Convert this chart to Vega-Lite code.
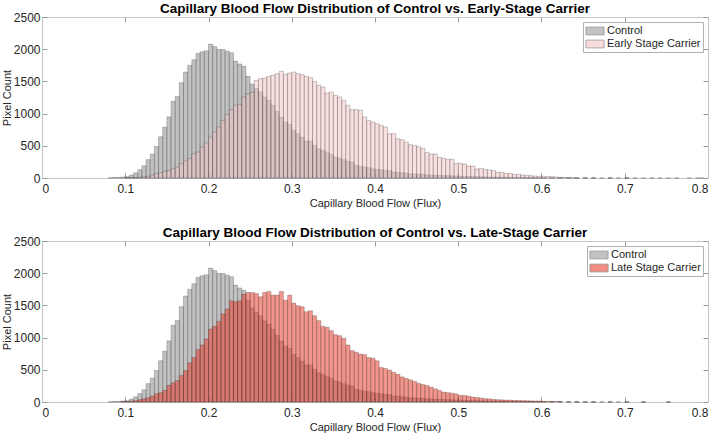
{
  "$schema": "https://vega.github.io/schema/vega-lite/v6.json",
  "padding": {"left": 0, "top": 1, "right": 0, "bottom": 0},
  "spacing": 16,
  "config": {
    "font": "Liberation Sans",
    "view": {"stroke": "#c4c4c4", "strokeWidth": 1},
    "axis": {"grid": false, "domainColor": "#c4c4c4", "tickColor": "#9a9a9a", "labelColor": "#262626", "titleColor": "#262626", "labelFontSize": 12, "titleFontSize": 11, "titleFontWeight": "normal", "tickSize": -5, "minExtent": 0},
    "title": {"fontSize": 13.5, "fontWeight": "bold", "color": "#000000", "offset": -4},
    "legend": {"orient": "top-right", "offset": 5, "fillColor": "#ffffff", "strokeColor": "#b0b0b0", "padding": 2, "labelFontSize": 11, "labelColor": "#262626", "rowPadding": 0, "symbolOffset": 3, "labelOffset": 5, "symbolType": "M-1.4,-0.6H1.4V0.6H-1.4Z", "symbolSize": 169, "symbolStrokeColor": "#555555", "symbolStrokeWidth": 0.8, "symbolOpacity": 0.6, "title": null}
  },
  "resolve": {"scale": {"color": "independent"}, "legend": {"color": "independent"}},
  "datasets": {
    "control": [
      {"lo":0.08,"hi":0.085,"n":5},{"lo":0.085,"hi":0.09,"n":8},{"lo":0.09,"hi":0.095,"n":10},{"lo":0.095,"hi":0.1,"n":15},
      {"lo":0.1,"hi":0.105,"n":20},{"lo":0.105,"hi":0.11,"n":45},{"lo":0.11,"hi":0.115,"n":80},{"lo":0.115,"hi":0.12,"n":130},
      {"lo":0.12,"hi":0.125,"n":190},{"lo":0.125,"hi":0.13,"n":285},{"lo":0.13,"hi":0.135,"n":370},{"lo":0.135,"hi":0.14,"n":490},
      {"lo":0.14,"hi":0.145,"n":640},{"lo":0.145,"hi":0.15,"n":790},{"lo":0.15,"hi":0.155,"n":950},{"lo":0.155,"hi":0.16,"n":1190},
      {"lo":0.16,"hi":0.165,"n":1265},{"lo":0.165,"hi":0.17,"n":1480},{"lo":0.17,"hi":0.175,"n":1645},{"lo":0.175,"hi":0.18,"n":1750},
      {"lo":0.18,"hi":0.185,"n":1835},{"lo":0.185,"hi":0.19,"n":1935},{"lo":0.19,"hi":0.195,"n":1960},{"lo":0.195,"hi":0.2,"n":1975},
      {"lo":0.2,"hi":0.205,"n":2080},{"lo":0.205,"hi":0.21,"n":2040},{"lo":0.21,"hi":0.215,"n":1995},{"lo":0.215,"hi":0.22,"n":1995},
      {"lo":0.22,"hi":0.225,"n":1970},{"lo":0.225,"hi":0.23,"n":1945},{"lo":0.23,"hi":0.235,"n":1815},{"lo":0.235,"hi":0.24,"n":1770},
      {"lo":0.24,"hi":0.245,"n":1735},{"lo":0.245,"hi":0.25,"n":1580},{"lo":0.25,"hi":0.255,"n":1460},{"lo":0.255,"hi":0.26,"n":1390},
      {"lo":0.26,"hi":0.265,"n":1335},{"lo":0.265,"hi":0.27,"n":1257},{"lo":0.27,"hi":0.275,"n":1206},{"lo":0.275,"hi":0.28,"n":1128},
      {"lo":0.28,"hi":0.285,"n":1035},{"lo":0.285,"hi":0.29,"n":947},{"lo":0.29,"hi":0.295,"n":869},{"lo":0.295,"hi":0.3,"n":833},
      {"lo":0.3,"hi":0.305,"n":740},{"lo":0.305,"hi":0.31,"n":688},{"lo":0.31,"hi":0.315,"n":636},{"lo":0.315,"hi":0.32,"n":574},
      {"lo":0.32,"hi":0.325,"n":574},{"lo":0.325,"hi":0.33,"n":507},{"lo":0.33,"hi":0.335,"n":455},{"lo":0.335,"hi":0.34,"n":429},
      {"lo":0.34,"hi":0.345,"n":403},{"lo":0.345,"hi":0.35,"n":367},{"lo":0.35,"hi":0.355,"n":326},{"lo":0.355,"hi":0.36,"n":310},
      {"lo":0.36,"hi":0.365,"n":284},{"lo":0.365,"hi":0.37,"n":264},{"lo":0.37,"hi":0.375,"n":248},{"lo":0.375,"hi":0.38,"n":196},
      {"lo":0.38,"hi":0.385,"n":181},{"lo":0.385,"hi":0.39,"n":170},{"lo":0.39,"hi":0.395,"n":160},{"lo":0.395,"hi":0.4,"n":144},
      {"lo":0.4,"hi":0.405,"n":134},{"lo":0.405,"hi":0.41,"n":129},{"lo":0.41,"hi":0.415,"n":119},{"lo":0.415,"hi":0.42,"n":115},
      {"lo":0.42,"hi":0.425,"n":93},{"lo":0.425,"hi":0.43,"n":90},{"lo":0.43,"hi":0.435,"n":82},{"lo":0.435,"hi":0.44,"n":77},
      {"lo":0.44,"hi":0.445,"n":67},{"lo":0.445,"hi":0.45,"n":64},{"lo":0.45,"hi":0.455,"n":60},{"lo":0.455,"hi":0.46,"n":55},
      {"lo":0.46,"hi":0.465,"n":50},{"lo":0.465,"hi":0.47,"n":47},{"lo":0.47,"hi":0.475,"n":45},{"lo":0.475,"hi":0.48,"n":42},
      {"lo":0.48,"hi":0.485,"n":40},{"lo":0.485,"hi":0.49,"n":37},{"lo":0.49,"hi":0.495,"n":35},{"lo":0.495,"hi":0.5,"n":31},
      {"lo":0.5,"hi":0.505,"n":28},{"lo":0.505,"hi":0.51,"n":26},{"lo":0.51,"hi":0.515,"n":24},{"lo":0.515,"hi":0.52,"n":22},
      {"lo":0.52,"hi":0.525,"n":20},{"lo":0.525,"hi":0.53,"n":18},{"lo":0.53,"hi":0.535,"n":17},{"lo":0.535,"hi":0.54,"n":15},
      {"lo":0.54,"hi":0.545,"n":14},{"lo":0.545,"hi":0.55,"n":13},{"lo":0.55,"hi":0.555,"n":12},{"lo":0.555,"hi":0.56,"n":11},
      {"lo":0.56,"hi":0.565,"n":10},{"lo":0.565,"hi":0.57,"n":9},{"lo":0.57,"hi":0.575,"n":8},{"lo":0.575,"hi":0.58,"n":7},
      {"lo":0.58,"hi":0.585,"n":6},{"lo":0.585,"hi":0.59,"n":6},{"lo":0.59,"hi":0.595,"n":5},{"lo":0.595,"hi":0.6,"n":5},
      {"lo":0.6,"hi":0.605,"n":4},{"lo":0.61,"hi":0.615,"n":3},{"lo":0.62,"hi":0.625,"n":3},{"lo":0.63,"hi":0.635,"n":2},
      {"lo":0.64,"hi":0.645,"n":2},{"lo":0.65,"hi":0.655,"n":2},{"lo":0.66,"hi":0.665,"n":2},{"lo":0.68,"hi":0.685,"n":1},
      {"lo":0.7,"hi":0.705,"n":2},{"lo":0.72,"hi":0.725,"n":1},{"lo":0.75,"hi":0.755,"n":1}
    ],
    "early": [
      {"lo":0.1,"hi":0.105,"n":3},{"lo":0.105,"hi":0.11,"n":5},{"lo":0.11,"hi":0.115,"n":8},{"lo":0.115,"hi":0.12,"n":12},
      {"lo":0.12,"hi":0.125,"n":18},{"lo":0.125,"hi":0.13,"n":25},{"lo":0.13,"hi":0.135,"n":46},{"lo":0.135,"hi":0.14,"n":67},
      {"lo":0.14,"hi":0.145,"n":82},{"lo":0.145,"hi":0.15,"n":103},{"lo":0.15,"hi":0.155,"n":119},{"lo":0.155,"hi":0.16,"n":145},
      {"lo":0.16,"hi":0.165,"n":170},{"lo":0.165,"hi":0.17,"n":222},{"lo":0.17,"hi":0.175,"n":264},{"lo":0.175,"hi":0.18,"n":300},
      {"lo":0.18,"hi":0.185,"n":377},{"lo":0.185,"hi":0.19,"n":403},{"lo":0.19,"hi":0.195,"n":481},{"lo":0.195,"hi":0.2,"n":543},
      {"lo":0.2,"hi":0.205,"n":636},{"lo":0.205,"hi":0.21,"n":714},{"lo":0.21,"hi":0.215,"n":792},{"lo":0.215,"hi":0.22,"n":895},
      {"lo":0.22,"hi":0.225,"n":988},{"lo":0.225,"hi":0.23,"n":1061},{"lo":0.23,"hi":0.235,"n":1128},{"lo":0.235,"hi":0.24,"n":1144},
      {"lo":0.24,"hi":0.245,"n":1258},{"lo":0.245,"hi":0.25,"n":1309},{"lo":0.25,"hi":0.255,"n":1330},{"lo":0.255,"hi":0.26,"n":1516},
      {"lo":0.26,"hi":0.265,"n":1542},{"lo":0.265,"hi":0.27,"n":1553},{"lo":0.27,"hi":0.275,"n":1578},{"lo":0.275,"hi":0.28,"n":1594},
      {"lo":0.28,"hi":0.285,"n":1620},{"lo":0.285,"hi":0.29,"n":1656},{"lo":0.29,"hi":0.295,"n":1610},{"lo":0.295,"hi":0.3,"n":1630},
      {"lo":0.3,"hi":0.305,"n":1646},{"lo":0.305,"hi":0.31,"n":1620},{"lo":0.31,"hi":0.315,"n":1604},{"lo":0.315,"hi":0.32,"n":1578},
      {"lo":0.32,"hi":0.325,"n":1558},{"lo":0.325,"hi":0.33,"n":1501},{"lo":0.33,"hi":0.335,"n":1439},{"lo":0.335,"hi":0.34,"n":1413},
      {"lo":0.34,"hi":0.345,"n":1320},{"lo":0.345,"hi":0.35,"n":1335},{"lo":0.35,"hi":0.355,"n":1283},{"lo":0.355,"hi":0.36,"n":1258},
      {"lo":0.36,"hi":0.365,"n":1206},{"lo":0.365,"hi":0.37,"n":1128},{"lo":0.37,"hi":0.375,"n":1061},{"lo":0.375,"hi":0.38,"n":1061},
      {"lo":0.38,"hi":0.385,"n":1050},{"lo":0.385,"hi":0.39,"n":947},{"lo":0.39,"hi":0.395,"n":895},{"lo":0.395,"hi":0.4,"n":869},
      {"lo":0.4,"hi":0.405,"n":843},{"lo":0.405,"hi":0.41,"n":817},{"lo":0.41,"hi":0.415,"n":792},{"lo":0.415,"hi":0.42,"n":688},
      {"lo":0.42,"hi":0.425,"n":688},{"lo":0.425,"hi":0.43,"n":610},{"lo":0.43,"hi":0.435,"n":595},{"lo":0.435,"hi":0.44,"n":559},
      {"lo":0.44,"hi":0.445,"n":517},{"lo":0.445,"hi":0.45,"n":507},{"lo":0.45,"hi":0.455,"n":486},{"lo":0.455,"hi":0.46,"n":461},
      {"lo":0.46,"hi":0.465,"n":398},{"lo":0.465,"hi":0.47,"n":373},{"lo":0.47,"hi":0.475,"n":373},{"lo":0.475,"hi":0.48,"n":320},
      {"lo":0.48,"hi":0.485,"n":305},{"lo":0.485,"hi":0.49,"n":290},{"lo":0.49,"hi":0.495,"n":290},{"lo":0.495,"hi":0.5,"n":228},
      {"lo":0.5,"hi":0.505,"n":228},{"lo":0.505,"hi":0.51,"n":217},{"lo":0.51,"hi":0.515,"n":186},{"lo":0.515,"hi":0.52,"n":186},
      {"lo":0.52,"hi":0.525,"n":140},{"lo":0.525,"hi":0.53,"n":150},{"lo":0.53,"hi":0.535,"n":135},{"lo":0.535,"hi":0.54,"n":125},
      {"lo":0.54,"hi":0.545,"n":115},{"lo":0.545,"hi":0.55,"n":88},{"lo":0.55,"hi":0.555,"n":88},{"lo":0.555,"hi":0.56,"n":73},
      {"lo":0.56,"hi":0.565,"n":73},{"lo":0.565,"hi":0.57,"n":57},{"lo":0.57,"hi":0.575,"n":57},{"lo":0.575,"hi":0.58,"n":47},
      {"lo":0.58,"hi":0.585,"n":42},{"lo":0.585,"hi":0.59,"n":36},{"lo":0.59,"hi":0.595,"n":31},{"lo":0.595,"hi":0.6,"n":26},
      {"lo":0.6,"hi":0.605,"n":28},{"lo":0.605,"hi":0.61,"n":21},{"lo":0.61,"hi":0.615,"n":21},{"lo":0.615,"hi":0.62,"n":16},
      {"lo":0.62,"hi":0.625,"n":10},{"lo":0.625,"hi":0.63,"n":8},{"lo":0.63,"hi":0.635,"n":6},{"lo":0.635,"hi":0.64,"n":5},
      {"lo":0.64,"hi":0.645,"n":4},{"lo":0.65,"hi":0.655,"n":3},{"lo":0.66,"hi":0.665,"n":3},{"lo":0.67,"hi":0.675,"n":2},
      {"lo":0.68,"hi":0.685,"n":2},{"lo":0.69,"hi":0.695,"n":2},{"lo":0.7,"hi":0.705,"n":2},{"lo":0.71,"hi":0.715,"n":2},
      {"lo":0.73,"hi":0.735,"n":3},{"lo":0.74,"hi":0.745,"n":1},{"lo":0.76,"hi":0.765,"n":2},{"lo":0.775,"hi":0.78,"n":3},
      {"lo":0.785,"hi":0.79,"n":2},{"lo":0.79,"hi":0.795,"n":3}
    ],
    "late": [
      {"lo":0.095,"hi":0.1,"n":5},{"lo":0.1,"hi":0.105,"n":8},{"lo":0.105,"hi":0.11,"n":15},{"lo":0.11,"hi":0.115,"n":20},
      {"lo":0.115,"hi":0.12,"n":35},{"lo":0.12,"hi":0.125,"n":50},{"lo":0.125,"hi":0.13,"n":66},{"lo":0.13,"hi":0.135,"n":92},
      {"lo":0.135,"hi":0.14,"n":128},{"lo":0.14,"hi":0.145,"n":144},{"lo":0.145,"hi":0.15,"n":180},{"lo":0.15,"hi":0.155,"n":257},
      {"lo":0.155,"hi":0.16,"n":298},{"lo":0.16,"hi":0.165,"n":334},{"lo":0.165,"hi":0.17,"n":412},{"lo":0.17,"hi":0.175,"n":489},
      {"lo":0.175,"hi":0.18,"n":608},{"lo":0.18,"hi":0.185,"n":690},{"lo":0.185,"hi":0.19,"n":814},{"lo":0.19,"hi":0.195,"n":886},
      {"lo":0.195,"hi":0.2,"n":979},{"lo":0.2,"hi":0.205,"n":1134},{"lo":0.205,"hi":0.21,"n":1175},{"lo":0.21,"hi":0.215,"n":1252},
      {"lo":0.215,"hi":0.22,"n":1366},{"lo":0.22,"hi":0.225,"n":1443},{"lo":0.225,"hi":0.23,"n":1572},{"lo":0.23,"hi":0.235,"n":1557},
      {"lo":0.235,"hi":0.24,"n":1572},{"lo":0.24,"hi":0.245,"n":1675},{"lo":0.245,"hi":0.25,"n":1701},{"lo":0.25,"hi":0.255,"n":1701},
      {"lo":0.255,"hi":0.26,"n":1685},{"lo":0.26,"hi":0.265,"n":1634},{"lo":0.265,"hi":0.27,"n":1701},{"lo":0.27,"hi":0.275,"n":1716},
      {"lo":0.275,"hi":0.28,"n":1660},{"lo":0.28,"hi":0.285,"n":1660},{"lo":0.285,"hi":0.29,"n":1716},{"lo":0.29,"hi":0.295,"n":1582},
      {"lo":0.295,"hi":0.3,"n":1660},{"lo":0.3,"hi":0.305,"n":1536},{"lo":0.305,"hi":0.31,"n":1495},{"lo":0.31,"hi":0.315,"n":1479},
      {"lo":0.315,"hi":0.32,"n":1402},{"lo":0.32,"hi":0.325,"n":1417},{"lo":0.325,"hi":0.33,"n":1340},{"lo":0.33,"hi":0.335,"n":1263},
      {"lo":0.335,"hi":0.34,"n":1175},{"lo":0.34,"hi":0.345,"n":1160},{"lo":0.345,"hi":0.35,"n":1108},{"lo":0.35,"hi":0.355,"n":1046},
      {"lo":0.355,"hi":0.36,"n":1030},{"lo":0.36,"hi":0.365,"n":989},{"lo":0.365,"hi":0.37,"n":886},{"lo":0.37,"hi":0.375,"n":798},
      {"lo":0.375,"hi":0.38,"n":773},{"lo":0.38,"hi":0.385,"n":745},{"lo":0.385,"hi":0.39,"n":735},{"lo":0.39,"hi":0.395,"n":690},
      {"lo":0.395,"hi":0.4,"n":680},{"lo":0.4,"hi":0.405,"n":640},{"lo":0.405,"hi":0.41,"n":535},{"lo":0.41,"hi":0.415,"n":520},
      {"lo":0.415,"hi":0.42,"n":495},{"lo":0.42,"hi":0.425,"n":460},{"lo":0.425,"hi":0.43,"n":430},{"lo":0.43,"hi":0.435,"n":390},
      {"lo":0.435,"hi":0.44,"n":365},{"lo":0.44,"hi":0.445,"n":345},{"lo":0.445,"hi":0.45,"n":320},{"lo":0.45,"hi":0.455,"n":290},
      {"lo":0.455,"hi":0.46,"n":270},{"lo":0.46,"hi":0.465,"n":257},{"lo":0.465,"hi":0.47,"n":231},{"lo":0.47,"hi":0.475,"n":205},
      {"lo":0.475,"hi":0.48,"n":180},{"lo":0.48,"hi":0.485,"n":154},{"lo":0.485,"hi":0.49,"n":145},{"lo":0.49,"hi":0.495,"n":138},
      {"lo":0.495,"hi":0.5,"n":125},{"lo":0.5,"hi":0.505,"n":102},{"lo":0.505,"hi":0.51,"n":100},{"lo":0.51,"hi":0.515,"n":90},
      {"lo":0.515,"hi":0.52,"n":77},{"lo":0.52,"hi":0.525,"n":70},{"lo":0.525,"hi":0.53,"n":61},{"lo":0.53,"hi":0.535,"n":51},
      {"lo":0.535,"hi":0.54,"n":48},{"lo":0.54,"hi":0.545,"n":40},{"lo":0.545,"hi":0.55,"n":36},{"lo":0.55,"hi":0.555,"n":33},
      {"lo":0.555,"hi":0.56,"n":30},{"lo":0.56,"hi":0.565,"n":28},{"lo":0.565,"hi":0.57,"n":25},{"lo":0.57,"hi":0.575,"n":23},
      {"lo":0.575,"hi":0.58,"n":22},{"lo":0.58,"hi":0.585,"n":20},{"lo":0.585,"hi":0.59,"n":18},{"lo":0.59,"hi":0.595,"n":16},
      {"lo":0.595,"hi":0.6,"n":15},{"lo":0.6,"hi":0.605,"n":13},{"lo":0.605,"hi":0.61,"n":11},{"lo":0.61,"hi":0.615,"n":10},
      {"lo":0.615,"hi":0.62,"n":9},{"lo":0.62,"hi":0.625,"n":8},{"lo":0.63,"hi":0.635,"n":6},{"lo":0.64,"hi":0.645,"n":5},
      {"lo":0.65,"hi":0.655,"n":4},{"lo":0.66,"hi":0.665,"n":3},{"lo":0.67,"hi":0.675,"n":3},{"lo":0.68,"hi":0.685,"n":2},
      {"lo":0.69,"hi":0.695,"n":2},{"lo":0.7,"hi":0.705,"n":2},{"lo":0.72,"hi":0.725,"n":1},{"lo":0.75,"hi":0.755,"n":1}
    ]
  },
  "vconcat": [
    {
      "width": 666, "height": 161,
      "title": "Capillary Blood Flow Distribution of Control vs. Early-Stage Carrier",
      "resolve": {"axis": {"x": "independent", "y": "independent"}},
      "layer": [
        {
          "data": {"name": "control"},
          "mark": {"type": "bar", "fillOpacity": 0.6, "stroke": "#222222", "strokeOpacity": 0.4, "strokeWidth": 0.6},
          "encoding": {
            "x": {"field": "lo", "type": "quantitative", "scale": {"domain": [0, 0.8], "nice": false}, "axis": {"values": [0, 0.1, 0.2, 0.3, 0.4, 0.5, 0.6, 0.7, 0.8], "format": ".1~f", "title": "Capillary Blood Flow (Flux)", "labelPadding": 10, "titlePadding": 3}},
            "x2": {"field": "hi"},
            "y": {"field": "n", "type": "quantitative", "scale": {"domain": [0, 2500], "nice": false}, "axis": {"values": [0, 500, 1000, 1500, 2000, 2500], "format": "d", "title": "Pixel Count", "labelPadding": 7, "titlePadding": 1}},
            "y2": {"datum": 0},
            "color": {"datum": "Control", "type": "nominal", "scale": {"domain": ["Control", "Early Stage Carrier"], "range": ["#9a9a9a", "#f4c4c4"]}}
          }
        },
        {
          "data": {"name": "early"},
          "mark": {"type": "bar", "fillOpacity": 0.5, "stroke": "#222222", "strokeOpacity": 0.4, "strokeWidth": 0.6},
          "encoding": {
            "x": {"field": "lo", "type": "quantitative", "axis": null},
            "x2": {"field": "hi"},
            "y": {"field": "n", "type": "quantitative", "axis": null},
            "y2": {"datum": 0},
            "color": {"datum": "Early Stage Carrier", "type": "nominal"}
          }
        },
        {
          "data": {"name": "control"},
          "mark": {"type": "point", "opacity": 0},
          "encoding": {
            "x": {"field": "lo", "type": "quantitative", "axis": {"orient": "top", "values": [0, 0.1, 0.2, 0.3, 0.4, 0.5, 0.6, 0.7, 0.8], "labels": false, "title": null, "labelPadding": 0, "maxExtent": 0}},
            "y": {"field": "n", "type": "quantitative", "axis": {"orient": "right", "values": [0, 500, 1000, 1500, 2000, 2500], "labels": false, "title": null, "labelPadding": 0, "maxExtent": 0}}
          }
        }
      ]
    },
    {
      "width": 666, "height": 161,
      "title": "Capillary Blood Flow Distribution of Control vs. Late-Stage Carrier",
      "resolve": {"axis": {"x": "independent", "y": "independent"}},
      "layer": [
        {
          "data": {"name": "control"},
          "mark": {"type": "bar", "fillOpacity": 0.6, "stroke": "#222222", "strokeOpacity": 0.4, "strokeWidth": 0.6},
          "encoding": {
            "x": {"field": "lo", "type": "quantitative", "scale": {"domain": [0, 0.8], "nice": false}, "axis": {"values": [0, 0.1, 0.2, 0.3, 0.4, 0.5, 0.6, 0.7, 0.8], "format": ".1~f", "title": "Capillary Blood Flow (Flux)", "labelPadding": 10, "titlePadding": 3}},
            "x2": {"field": "hi"},
            "y": {"field": "n", "type": "quantitative", "scale": {"domain": [0, 2500], "nice": false}, "axis": {"values": [0, 500, 1000, 1500, 2000, 2500], "format": "d", "title": "Pixel Count", "labelPadding": 7, "titlePadding": 1}},
            "y2": {"datum": 0},
            "color": {"datum": "Control", "type": "nominal", "scale": {"domain": ["Control", "Late Stage Carrier"], "range": ["#9a9a9a", "#e8402f"]}}
          }
        },
        {
          "data": {"name": "late"},
          "mark": {"type": "bar", "fillOpacity": 0.55, "stroke": "#222222", "strokeOpacity": 0.4, "strokeWidth": 0.6},
          "encoding": {
            "x": {"field": "lo", "type": "quantitative", "axis": null},
            "x2": {"field": "hi"},
            "y": {"field": "n", "type": "quantitative", "axis": null},
            "y2": {"datum": 0},
            "color": {"datum": "Late Stage Carrier", "type": "nominal"}
          }
        },
        {
          "data": {"name": "control"},
          "mark": {"type": "point", "opacity": 0},
          "encoding": {
            "x": {"field": "lo", "type": "quantitative", "axis": {"orient": "top", "values": [0, 0.1, 0.2, 0.3, 0.4, 0.5, 0.6, 0.7, 0.8], "labels": false, "title": null, "labelPadding": 0, "maxExtent": 0}},
            "y": {"field": "n", "type": "quantitative", "axis": {"orient": "right", "values": [0, 500, 1000, 1500, 2000, 2500], "labels": false, "title": null, "labelPadding": 0, "maxExtent": 0}}
          }
        }
      ]
    }
  ]
}
